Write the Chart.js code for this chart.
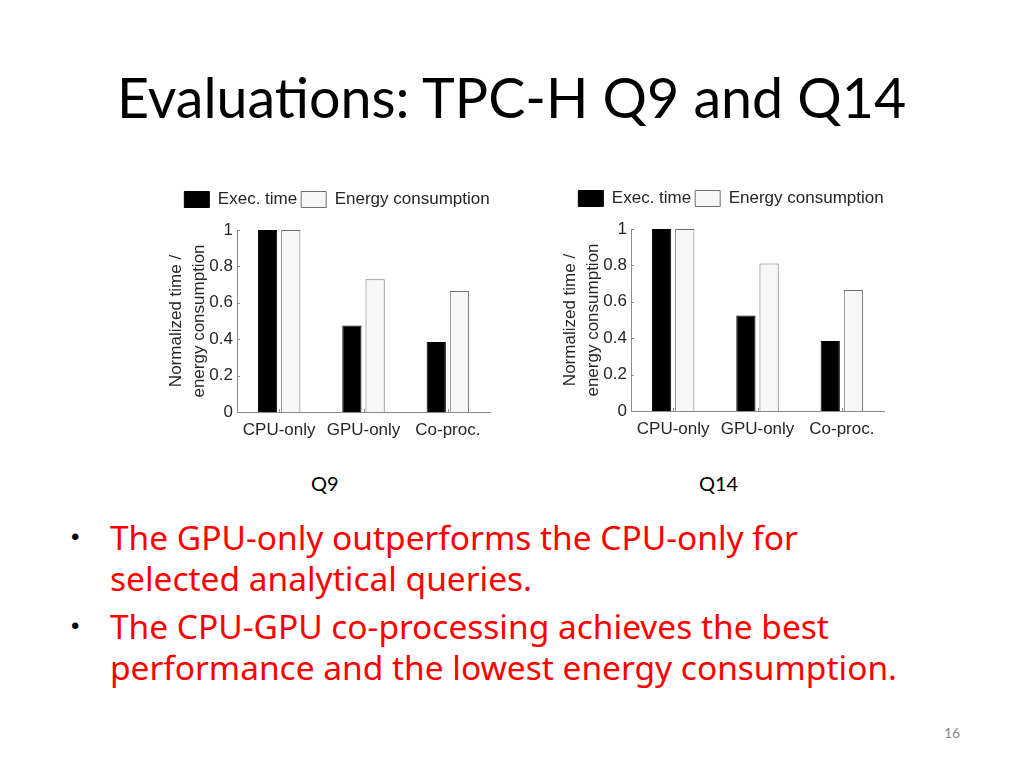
<!DOCTYPE html>
<html>
<head>
<meta charset="utf-8">
<script src="https://cdn.jsdelivr.net/npm/chart.js@4"></script>
<style>
  html, body { margin: 0; padding: 0; background: #fff; }
  body { width: 1024px; height: 768px; position: relative; overflow: hidden; }
  .abs { position: absolute; white-space: nowrap; }
  #title { left: 117px; top: 62px; font-family: Lato, sans-serif; color: #000; line-height: 70px; }
  .cap { font-family: Lato, sans-serif; font-size: 20px; color: #000; line-height: 24px; }
  .line { left: 110px; font-family: "Noto Sans", sans-serif; color: #ff0000; line-height: 40px; }
  .dot { left: 71px; font-family: Arial, "Liberation Sans", sans-serif; font-size: 24px; color: #000; line-height: 40px; }
  #page { left: 944px; top: 724px; font-family: Lato, sans-serif; font-size: 14px; color: #8a8a8a; }
  .wrap { position: absolute; }
</style>
</head>
<body>
<div id="title" class="abs">Evaluations: TPC-H Q9 and Q14</div>

<div class="wrap" style="left:160px; top:185px; width:354px; height:260px;"><canvas id="q9"></canvas></div>
<div class="wrap" style="left:554px; top:184px; width:354px; height:260px;"><canvas id="q14"></canvas></div>

<div class="abs cap" style="left:311px; top:471px;">Q9</div>
<div class="abs cap" style="left:699px; top:471px;">Q14</div>

<div class="abs dot" style="top:517px;">•</div>
<div class="abs line" id="l1" style="top:517px;">The GPU-only outperforms the CPU-only for</div>
<div class="abs line" style="top:558px;">selected analytical queries.</div>
<div class="abs dot" style="top:606px;">•</div>
<div class="abs line" style="top:606px;">The CPU-GPU co-processing achieves the best</div>
<div class="abs line" id="l4" style="top:647px;">performance and the lowest energy consumption.</div>

<div id="page" class="abs">16</div>

<script>
// chart values
const categories = ["CPU-only", "GPU-only", "Co-proc."];
const seriesNames = ["Exec. time", "Energy consumption"];
const q9Exec = [1, 0.475, 0.385];
const q9Energy = [1, 0.73, 0.665];
const q14Exec = [1, 0.525, 0.385];
const q14Energy = [1, 0.81, 0.665];
const yTickLabels = ["0", "0.2", "0.4", "0.6", "0.8", "1"];

// fit title / bullet text widths to the slide
function fitFont(el, family, targetWidth) {
  const ctx = document.createElement("canvas").getContext("2d");
  ctx.font = "100px " + family;
  const w = ctx.measureText(el.textContent).width;
  return 100 * targetWidth / w;
}
const titleEl = document.getElementById("title");
titleEl.style.fontSize = fitFont(titleEl, "Lato", 791) + "px";
const bulletSize = (fitFont(document.getElementById("l1"), "'Noto Sans'", 700) +
                    fitFont(document.getElementById("l4"), "'Noto Sans'", 774)) / 2;
document.querySelectorAll(".line").forEach(el => el.style.fontSize = bulletSize + "px");

const textColor = "#262626";
const axisColor = "#8c8c8c";

// MATLAB style inward tick marks
const innerTicks = {
  id: "innerTicks",
  afterDraw(chart) {
    const ctx = chart.ctx;
    const x = chart.scales.x, y = chart.scales.y;
    const area = chart.chartArea;
    ctx.save();
    ctx.strokeStyle = axisColor;
    ctx.lineWidth = 1;
    ctx.beginPath();
    y.ticks.forEach(t => {
      const py = Math.round(y.getPixelForValue(t.value)) + 0.5;
      ctx.moveTo(area.left, py);
      ctx.lineTo(area.left + 3, py);
    });
    categories.forEach((c, i) => {
      const px = Math.round(x.getPixelForValue(i)) + 0.5;
      ctx.moveTo(px, area.bottom);
      ctx.lineTo(px, area.bottom - 3);
    });
    ctx.stroke();
    ctx.restore();
  }
};

// extra space under the legend
const legendGap = {
  id: "legendGap",
  beforeInit(chart) {
    const fit = chart.legend.fit;
    chart.legend.fit = function () {
      fit.bind(chart.legend)();
      this.height += 12;
    };
  }
};

function makeChart(id, execVals, energyVals) {
  const ctx = document.getElementById(id).getContext("2d");
  return new Chart(ctx, {
    type: "bar",
    data: {
      labels: categories,
      datasets: [
        {
          label: seriesNames[0],
          data: execVals,
          backgroundColor: "#000000",
          borderColor: "#000000",
          borderWidth: 1,
          categoryPercentage: 0.55,
          barPercentage: 0.83,
        },
        {
          label: seriesNames[1],
          data: energyVals,
          backgroundColor: "#f7f7f7",
          borderColor: "#707070",
          borderWidth: 1,
          categoryPercentage: 0.55,
          barPercentage: 0.83,
        }
      ]
    },
    options: {
      responsive: true,
      maintainAspectRatio: false,
      animation: false,
      layout: { padding: { top: 2, left: 0, right: 0, bottom: 0 } },
      scales: {
        x: {
          grid: { display: false, drawTicks: false },
          border: { display: true, color: axisColor, width: 1 },
          ticks: { color: textColor, font: { family: "'Liberation Sans', Arial", size: 17 }, padding: 8 },
          afterFit: function (scale) {
            scale.height = 33;
            scale.paddingRight = 24;
          }
        },
        y: {
          min: 0,
          max: 1,
          grid: { display: false, drawTicks: false },
          border: { display: true, color: axisColor, width: 1 },
          ticks: {
            stepSize: 0.2,
            color: textColor,
            padding: 4,
            font: { family: "'Liberation Sans', Arial", size: 17 },
            callback: function (value, index) {
              return yTickLabels[index];
            }
          },
          title: {
            display: true,
            text: ["Normalized time /", "energy consumption"],
            color: textColor,
            font: { family: "'Liberation Sans', Arial", size: 17, lineHeight: 1.35 },
            padding: { top: 5, bottom: 0 }
          },
          afterFit: function (scale) {
            scale.width = 77;
          }
        }
      },
      plugins: {
        legend: {
          position: "top",
          labels: {
            color: textColor,
            font: { family: "'Liberation Sans', Arial", size: 17 },
            boxWidth: 25,
            boxHeight: 16,
            padding: 4
          }
        },
        tooltip: { enabled: false }
      }
    },
    plugins: [innerTicks, legendGap]
  });
}

makeChart("q9", q9Exec, q9Energy);
makeChart("q14", q14Exec, q14Energy);
</script>
</body>
</html>
